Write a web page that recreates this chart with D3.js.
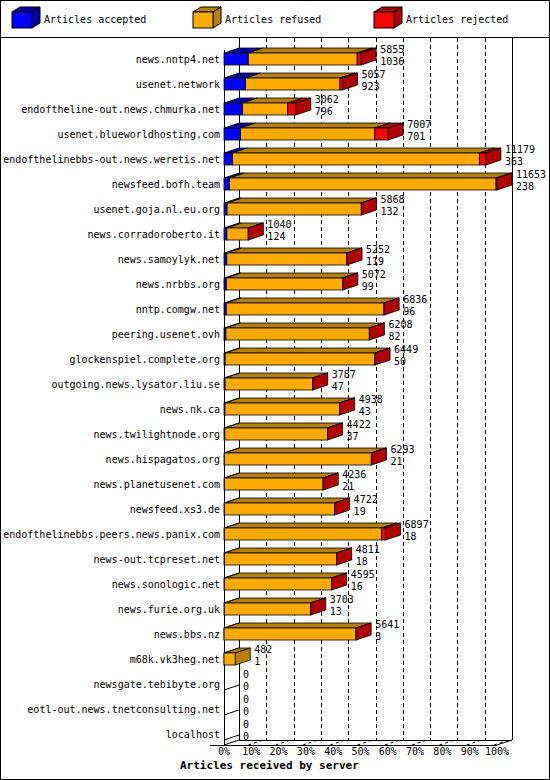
<!DOCTYPE html>
<html>
<head>
<meta charset="UTF-8" />
<style>
  body { margin: 0; padding: 0; background: #fff; }
  svg { display: block; }
  text { font-family: 'DejaVu Sans Mono', monospace; font-size: 10px; fill: #000; }
</style>
</head>
<body>
<div class="container"></div>
<script src="https://cdnjs.cloudflare.com/ajax/libs/d3/7.8.5/d3.min.js"></script>
<script>
const servers = ["news.nntp4.net", "usenet.network", "endoftheline-out.news.chmurka.net",
  "usenet.blueworldhosting.com", "endofthelinebbs-out.news.weretis.net", "newsfeed.bofh.team",
  "usenet.goja.nl.eu.org", "news.corradoroberto.it", "news.samoylyk.net", "news.nrbbs.org",
  "nntp.comgw.net", "peering.usenet.ovh", "glockenspiel.complete.org", "outgoing.news.lysator.liu.se",
  "news.nk.ca", "news.twilightnode.org", "news.hispagatos.org", "news.planetusenet.com",
  "newsfeed.xs3.de", "endofthelinebbs.peers.news.panix.com", "news-out.tcpreset.net",
  "news.sonologic.net", "news.furie.org.uk", "news.bbs.nz", "m68k.vk3heg.net",
  "newsgate.tebibyte.org", "eotl-out.news.tnetconsulting.net", "localhost"];
const offered = [5855, 5057, 3062, 7007, 11179, 11653, 5868, 1040, 5252, 5072, 6836, 6208, 6449,
  3787, 4938, 4422, 6293, 4236, 4722, 6897, 4811, 4595, 3703, 5641, 482, 0, 0, 0];
const accepted = [1036, 923, 796, 701, 363, 238, 132, 124, 119, 99, 96, 82, 50, 47, 43, 37, 21,
  21, 19, 18, 18, 16, 13, 3, 1, 0, 0, 0];
const rejected = [170, 110, 340, 570, 280, 40, 8, 6, 6, 6, 6, 6, 6, 5, 5, 5, 5, 5, 5, 180, 5, 5,
  5, 5, 0, 0, 0, 0];
const legendLabels = ["Articles accepted", "Articles refused", "Articles rejected"];
const ticks = d3.range(0, 101, 10);

const W = 550, H = 780;
const dx = 15, dy = -5, bh = 12;
const colors = [["#0000ff", "#0000a8"], ["#ffaa00", "#b88000"], ["#ff0000", "#b00000"]];

const svg = d3.select(".container").append("svg").attr("width", W).attr("height", H);
svg.append("rect").attr("x", 0.5).attr("y", 0.5).attr("width", W - 1).attr("height", H - 1)
  .attr("fill", "#fff").attr("stroke", "#000");
svg.append("line").attr("x1", 0).attr("x2", W).attr("y1", 37.5).attr("y2", 37.5).attr("stroke", "#000");

// legend
const lg = svg.append("g");
legendLabels.forEach((t, i) => {
  const x0 = [12, 193, 374][i], y0 = 12;
  const g = lg.append("g");
  g.append("polygon").attr("points", `${x0},${y0} ${x0 + 8},${y0 - 5} ${x0 + 28},${y0 - 5} ${x0 + 20},${y0}`)
    .attr("fill", colors[i][1]).attr("stroke", "#000");
  g.append("polygon").attr("points", `${x0 + 20},${y0} ${x0 + 28},${y0 - 5} ${x0 + 28},${y0 + 11} ${x0 + 20},${y0 + 16}`)
    .attr("fill", colors[i][1]).attr("stroke", "#000");
  g.append("rect").attr("x", x0).attr("y", y0).attr("width", 20).attr("height", 16)
    .attr("fill", colors[i][0]).attr("stroke", "#000");
  g.append("text").attr("x", x0 + 32).attr("y", y0 + 11).text(t);
});

const x = d3.scaleLinear().domain([0, d3.max(offered)]).range([224, 497]);
const xp = d3.scaleLinear().domain([0, 100]).range([224, 497]);
const y = d3.scalePoint().domain(servers).range([59, 734]);
const floorY = 745;

// back wall & floor
svg.append("line").attr("x1", 239.5).attr("x2", 239.5).attr("y1", 38).attr("y2", floorY + dy).attr("stroke", "#000");
svg.append("line").attr("x1", 512.5).attr("x2", 512.5).attr("y1", 38).attr("y2", floorY + dy).attr("stroke", "#000");
svg.append("line").attr("x1", 224.5).attr("x2", 224.5).attr("y1", 50).attr("y2", floorY).attr("stroke", "#000");
svg.append("line").attr("x1", 239).attr("x2", 512).attr("y1", floorY + dy + 0.5).attr("y2", floorY + dy + 0.5).attr("stroke", "#000");
svg.append("line").attr("x1", 210).attr("x2", 497).attr("y1", floorY + 0.5).attr("y2", floorY + 0.5).attr("stroke", "#000");
svg.append("line").attr("x1", 497).attr("x2", 512).attr("y1", floorY).attr("y2", floorY + dy).attr("stroke", "#000");
svg.append("line").attr("x1", 224).attr("x2", 239).attr("y1", floorY).attr("y2", floorY + dy).attr("stroke", "#000");

svg.append("g").selectAll("line").data(ticks.slice(1, -1)).join("line")
  .attr("x1", d => Math.round(xp(d) + dx) + 0.5).attr("x2", d => Math.round(xp(d) + dx) + 0.5)
  .attr("y1", 38).attr("y2", floorY + dy)
  .attr("stroke", "#000").attr("stroke-dasharray", "4,3");
svg.append("g").selectAll("line").data(ticks.slice(1)).join("line")
  .attr("x1", d => xp(d) - 3).attr("x2", d => xp(d) + 12)
  .attr("y1", floorY).attr("y2", floorY + dy)
  .attr("stroke", "#000").attr("stroke-dasharray", "3,3");
// wall ticks per row
svg.append("g").selectAll("line").data(servers).join("line")
  .attr("x1", 224).attr("x2", 239).attr("y1", d => y(d) + 6).attr("y2", d => y(d) + 6 + dy)
  .attr("stroke", "#000");

// x labels
svg.append("g").selectAll("text").data(ticks).join("text")
  .attr("x", d => xp(d)).attr("y", 755).attr("text-anchor", "middle").text(d => d + "%");
svg.append("text").attr("x", 180).attr("y", 769).attr("font-weight", "bold").style("font-size", "11px")
  .text("Articles received by server");

// server labels
svg.append("g").selectAll("text").data(servers).join("text")
  .attr("x", 220).attr("y", d => y(d) + 4).attr("text-anchor", "end").text(d => d);

// bars
servers.forEach((s, i) => {
  const yc = y(s), top = yc - bh / 2;
  const segs = [accepted[i], offered[i] - accepted[i] - rejected[i], rejected[i]];
  const g = svg.append("g");
  let cum = 0, last = -1, xEnd = x(0);
  segs.forEach((v, k) => {
    if (v <= 0) return;
    const x0 = x(cum), x1 = x(cum + v);
    cum += v; last = k; xEnd = x1;
    g.append("polygon").attr("points", `${x0},${top} ${x0 + dx},${top + dy} ${x1 + dx},${top + dy} ${x1},${top}`)
      .attr("fill", colors[k][1]).attr("stroke", "#000").attr("stroke-width", 0.8);
    g.append("rect").attr("x", x0).attr("y", top).attr("width", x1 - x0).attr("height", bh)
      .attr("fill", colors[k][0]).attr("stroke", "#000").attr("stroke-width", 0.8);
  });
  if (last >= 0) {
    g.append("polygon")
      .attr("points", `${xEnd},${top} ${xEnd + dx},${top + dy} ${xEnd + dx},${top + bh + dy} ${xEnd},${top + bh}`)
      .attr("fill", colors[last][1]).attr("stroke", "#000").attr("stroke-width", 0.8);
  }
  const tx = xEnd + dx + 4;
  g.append("text").attr("x", tx).attr("y", yc - 6).text(offered[i]);
  g.append("text").attr("x", tx).attr("y", yc + 6).text(accepted[i]);
});
</script>
</body>
</html>
